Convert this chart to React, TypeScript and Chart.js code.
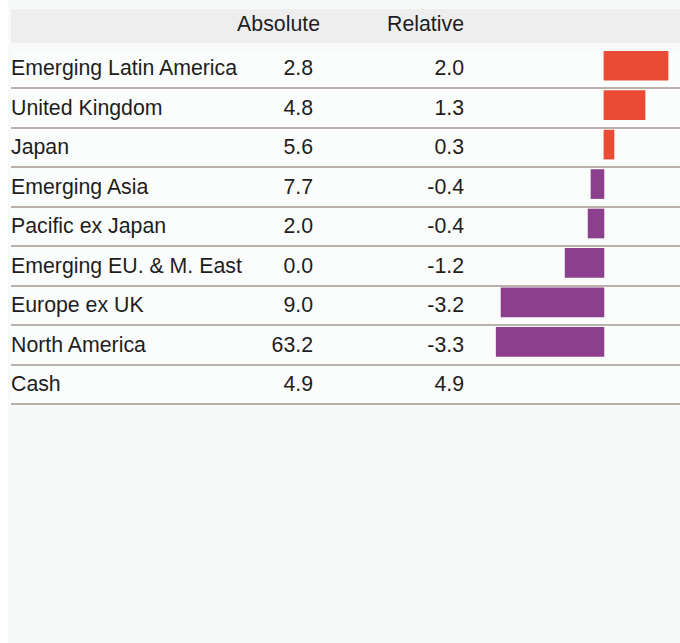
import React, { useEffect, useRef } from "react";
import { Chart, registerables } from "chart.js";

Chart.register(...registerables);

// ---- data ----
const categories = [
  "Emerging Latin America",
  "United Kingdom",
  "Japan",
  "Emerging Asia",
  "Pacific ex Japan",
  "Emerging EU. & M. East",
  "Europe ex UK",
  "North America",
  "Cash",
];
const absoluteValues = [2.8, 4.8, 5.6, 7.7, 2.0, 0.0, 9.0, 63.2, 4.9];
const relativeValues = [2.0, 1.3, 0.3, -0.4, -0.4, -1.2, -3.2, -3.3, 4.9];
// unrounded relative weights drawn as bars (no bar for Cash)
const barValues: (number | null)[] = [1.98, 1.27, 0.31, -0.4, -0.49, -1.2, -3.18, -3.33, null];
const columnHeaders = ["Absolute", "Relative"];
const AXIS_MIN = -3.83;
const AXIS_MAX = 2.35;

const POS_COLOR = "#e94b34";
const NEG_COLOR = "#8c3f8d";
const FONT = "'Liberation Sans', Arial, Helvetica, sans-serif";

const ROW_TOP = 49.8;
const ROW_PITCH = 39.5;

export default function App() {
  const canvasRef = useRef<HTMLCanvasElement | null>(null);

  useEffect(() => {
    const canvas = canvasRef.current;
    if (!canvas) return;
    const chart = new Chart(canvas, {
      type: "bar",
      data: {
        labels: categories,
        datasets: [
          {
            data: barValues as any,
            backgroundColor: barValues.map((v) => ((v ?? 0) >= 0 ? POS_COLOR : NEG_COLOR)),
            borderWidth: 0,
            barThickness: 29,
            categoryPercentage: 1,
            barPercentage: 1,
          },
        ],
      },
      options: {
        indexAxis: "y",
        animation: false,
        responsive: false,
        maintainAspectRatio: false,
        devicePixelRatio: 1,
        layout: { padding: 0 },
        plugins: {
          legend: { display: false },
          tooltip: { enabled: false },
          title: { display: false },
        },
        scales: {
          x: {
            type: "linear",
            min: AXIS_MIN,
            max: AXIS_MAX,
            display: false,
            grid: { display: false },
          },
          y: {
            type: "category",
            display: false,
            grid: { display: false },
          },
        },
      },
    });
    return () => chart.destroy();
  }, []);

  const textStyle: React.CSSProperties = {
    fontFamily: FONT,
    fontSize: "21.3px",
    color: "#1e1e1e",
    whiteSpace: "nowrap",
    lineHeight: "normal",
  };

  return (
    <div
      style={{
        position: "fixed",
        left: 8,
        top: 0,
        right: 0,
        bottom: 0,
        background: "#f8f9f9",
        overflow: "hidden",
      }}
    >
      {/* header */}
      <div
        style={{
          position: "absolute",
          left: 3,
          right: 0,
          top: 9,
          height: 34,
          background: "#eeeeee",
        }}
      >
        <span
          style={{
            ...textStyle,
            position: "absolute",
            left: 0,
            width: 309,
            top: 0,
            height: 31,
            display: "flex",
            alignItems: "center",
            justifyContent: "flex-end",
          }}
        >
          {columnHeaders[0]}
        </span>
        <span
          style={{
            ...textStyle,
            position: "absolute",
            left: 0,
            width: 453,
            top: 0,
            height: 31,
            display: "flex",
            alignItems: "center",
            justifyContent: "flex-end",
          }}
        >
          {columnHeaders[1]}
        </span>
      </div>

      {/* rows */}
      {categories.map((cat, i) => (
        <div
          key={cat}
          style={{
            position: "absolute",
            left: 3,
            right: 0,
            top: ROW_TOP + i * ROW_PITCH,
            height: ROW_PITCH,
            boxSizing: "border-box",
            borderBottom: "2px solid #bab2aa",
            background: "#fbfcfc",
          }}
        >
          <span
            style={{
              ...textStyle,
              position: "absolute",
              left: 0,
              top: 0,
              bottom: 0,
              display: "flex",
              alignItems: "center",
            }}
          >
            {cat}
          </span>
          <span
            style={{
              ...textStyle,
              position: "absolute",
              left: 0,
              width: 302,
              top: 0,
              bottom: 0,
              display: "flex",
              alignItems: "center",
              justifyContent: "flex-end",
            }}
          >
            {absoluteValues[i].toFixed(1)}
          </span>
          <span
            style={{
              ...textStyle,
              position: "absolute",
              left: 0,
              width: 453,
              top: 0,
              bottom: 0,
              display: "flex",
              alignItems: "center",
              justifyContent: "flex-end",
            }}
          >
            {relativeValues[i].toFixed(1)}
          </span>
        </div>
      ))}

      {/* bar chart column */}
      <canvas
        ref={canvasRef}
        width={200}
        height={355}
        style={{
          position: "absolute",
          left: 472,
          top: 46,
          width: 200,
          height: 355,
        }}
      />
    </div>
  );
}
